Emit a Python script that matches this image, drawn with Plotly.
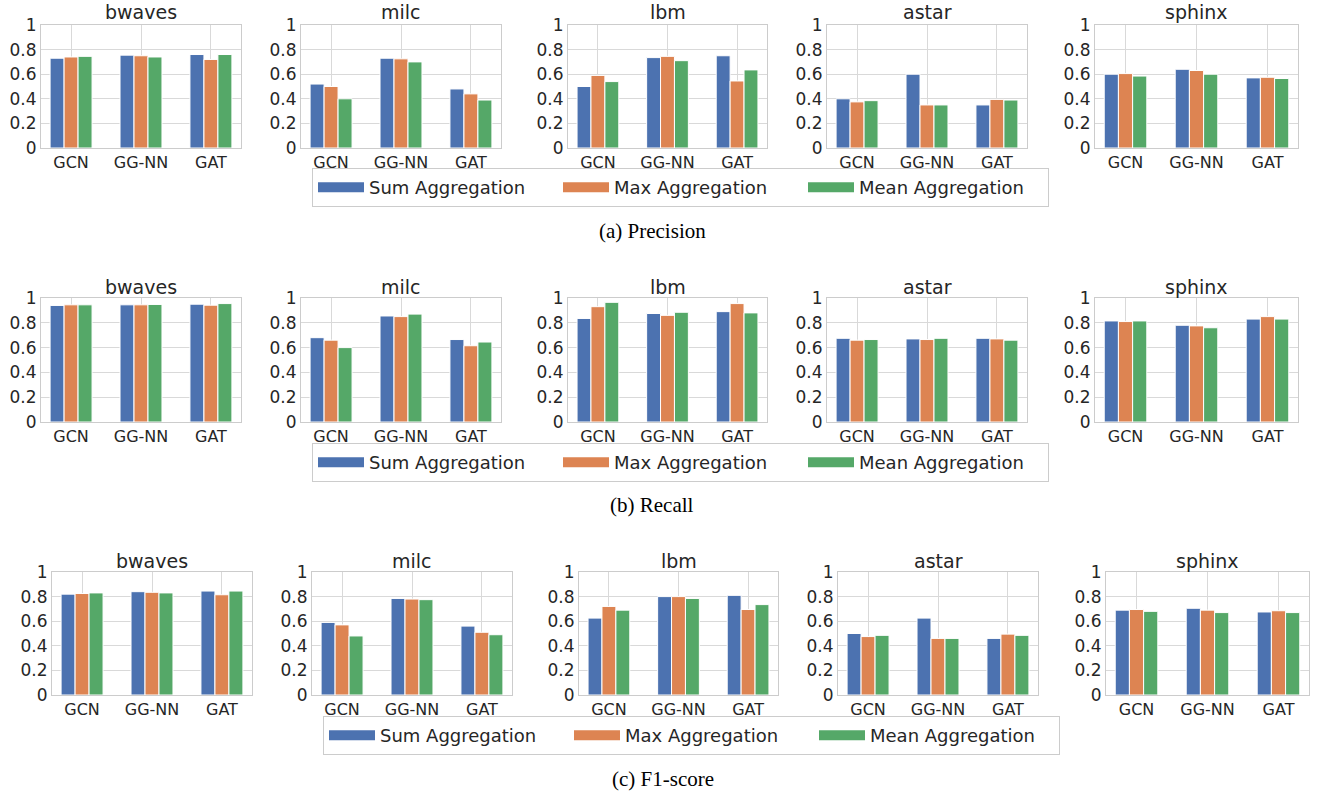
import plotly.graph_objects as go

# ---------------- data ----------------
benchmarks = ["bwaves", "milc", "lbm", "astar", "sphinx"]
models = ["GCN", "GG-NN", "GAT"]
aggregations = ["Sum Aggregation", "Max Aggregation", "Mean Aggregation"]
captions = ["(a) Precision", "(b) Recall", "(c) F1-score"]
y_tick_vals = [0, 0.2, 0.4, 0.6, 0.8, 1]
y_tick_text = ["0", "0.2", "0.4", "0.6", "0.8", "1"]

# values indexed [benchmark][model]
precision_sum = [[0.73, 0.755, 0.76], [0.52, 0.73, 0.48], [0.50, 0.735, 0.75], [0.40, 0.60, 0.35], [0.60, 0.64, 0.57]]
precision_max = [[0.74, 0.75, 0.72], [0.50, 0.725, 0.44], [0.59, 0.745, 0.545], [0.375, 0.35, 0.395], [0.605, 0.63, 0.575]]
precision_mean = [[0.745, 0.74, 0.76], [0.40, 0.70, 0.39], [0.54, 0.71, 0.635], [0.385, 0.35, 0.39], [0.585, 0.60, 0.565]]

recall_sum = [[0.94, 0.945, 0.95], [0.68, 0.855, 0.665], [0.835, 0.875, 0.89], [0.675, 0.67, 0.675], [0.815, 0.78, 0.83]]
recall_max = [[0.945, 0.945, 0.942], [0.66, 0.85, 0.615], [0.93, 0.86, 0.955], [0.66, 0.665, 0.67], [0.81, 0.775, 0.85]]
recall_mean = [[0.945, 0.948, 0.955], [0.60, 0.87, 0.645], [0.965, 0.885, 0.88], [0.665, 0.675, 0.66], [0.815, 0.76, 0.83]]

f1_sum = [[0.82, 0.84, 0.845], [0.59, 0.785, 0.56], [0.625, 0.80, 0.81], [0.50, 0.625, 0.46], [0.69, 0.705, 0.675]]
f1_max = [[0.825, 0.835, 0.815], [0.57, 0.78, 0.51], [0.72, 0.80, 0.695], [0.475, 0.46, 0.495], [0.695, 0.69, 0.685]]
f1_mean = [[0.83, 0.83, 0.845], [0.48, 0.775, 0.49], [0.69, 0.785, 0.735], [0.485, 0.46, 0.485], [0.68, 0.67, 0.67]]

metrics = [
    [precision_sum, precision_max, precision_mean],
    [recall_sum, recall_max, recall_mean],
    [f1_sum, f1_max, f1_mean],
]

# ---------------- layout / style ----------------
W, H = 1320, 794
colors = ["#4C72B0", "#DD8452", "#55A868"]
col_x = [(41, 241), (301, 501), (568, 767), (827, 1027), (1095, 1298)]
row_y = [(25, 148), (298, 422), (572, 695)]
row_shift = [0, 0, 11]
legend_top = [168, 443, 716]
caption_y = [231, 505, 779]
title_y = [12, 287, 561]
legend_ids = ["legend", "legend2", "legend3"]
grid_col = "#d9d9d9"
edge_col = "#cccccc"
text_col = "#262626"


def px_x(v):
    return v / W


def px_y(v):
    return 1 - v / H


fig = go.Figure()
layout = dict(
    width=W, height=H,
    margin=dict(l=0, r=0, t=0, b=0, autoexpand=False),
    paper_bgcolor="white", plot_bgcolor="white",
    font=dict(family="DejaVu Sans", color=text_col),
    barmode="group", bargap=0.4, bargroupgap=0,
)
annotations = []

for r in range(3):
    sh = row_shift[r]
    for c in range(5):
        n = r * 5 + c + 1
        xa = "x" if n == 1 else f"x{n}"
        ya = "y" if n == 1 else f"y{n}"
        for k in range(3):
            fig.add_trace(go.Bar(
                x=models, y=metrics[r][k][c], name=aggregations[k],
                marker=dict(color=colors[k], line=dict(color="white", width=1)),
                xaxis=xa, yaxis=ya, showlegend=False,
                hovertemplate="%{x}: %{y}<extra>" + aggregations[k] + "</extra>",
            ))
        x0, x1 = col_x[c]
        y0, y1 = row_y[r]
        layout["xaxis" if n == 1 else f"xaxis{n}"] = dict(
            domain=[px_x(x0 + sh), px_x(x1 + sh)], anchor=ya,
            type="category", range=[-0.43, 2.43],
            showgrid=True, gridcolor=grid_col, gridwidth=1,
            showline=True, linecolor=edge_col, linewidth=1, mirror=True,
            ticks="", tickfont=dict(size=16, color=text_col),
            automargin=False, fixedrange=True,
        )
        layout["yaxis" if n == 1 else f"yaxis{n}"] = dict(
            domain=[px_y(y1), px_y(y0)], anchor=xa,
            range=[0, 1], tickvals=y_tick_vals, ticktext=y_tick_text,
            showgrid=True, gridcolor=grid_col, gridwidth=1,
            showline=True, linecolor=edge_col, linewidth=1, mirror=True,
            zeroline=False, ticks="", tickfont=dict(size=17, color=text_col),
            automargin=False, fixedrange=True,
        )
        annotations.append(dict(
            text=benchmarks[c], xref="paper", yref="paper",
            x=px_x((x0 + x1) / 2 + sh), y=px_y(title_y[r]),
            xanchor="center", yanchor="middle", showarrow=False,
            font=dict(size=19, color=text_col),
        ))
    # legend entries for the row
    for k in range(3):
        fig.add_trace(go.Scatter(
            x=[None], y=[None], mode="lines", name=aggregations[k],
            line=dict(color=colors[k], width=13),
            xaxis="x" if r == 0 else f"x{r*5+1}",
            yaxis="y" if r == 0 else f"y{r*5+1}",
            legend=legend_ids[r], showlegend=True, hoverinfo="skip",
        ))
    layout[legend_ids[r]] = dict(
        orientation="h", x=px_x(312 + sh), xanchor="left",
        y=px_y(legend_top[r]), yanchor="top",
        bgcolor="white", bordercolor=edge_col, borderwidth=1,
        font=dict(size=18, color=text_col),
        entrywidth=184, entrywidthmode="pixels", itemwidth=46,
        traceorder="normal",
    )
    annotations.append(dict(
        text=captions[r], xref="paper", yref="paper",
        x=px_x(652 + sh), y=px_y(caption_y[r]),
        xanchor="center", yanchor="middle", showarrow=False,
        font=dict(size=21, color="black", family="Liberation Serif"),
    ))

layout["annotations"] = annotations
fig.update_layout(**layout)
fig.write_html(
    "out.html",
    config={"displayModeBar": False},
    post_script="document.body.style.margin='0';document.body.style.padding='0';",
)
